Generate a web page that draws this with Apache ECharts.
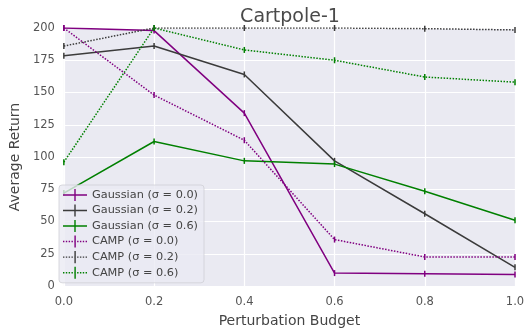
<!DOCTYPE html>
<html>
<head>
<meta charset="utf-8">
<script src="https://cdn.jsdelivr.net/npm/echarts@6/dist/echarts.min.js"></script>
<style>
  html, body { margin: 0; padding: 0; background: #fff; }
  #chart { width: 532px; height: 333px; }
</style>
</head>
<body>
<div id="chart"></div>
<script>
const budgets = [0.0, 0.2, 0.4, 0.6, 0.8, 1.0];
const gauss00 = [200, 198, 134, 10, 9.5, 9];
const gauss02 = [178.5, 186, 164, 97, 56, 14.5];
const gauss06 = [72, 112, 97, 94.5, 73.5, 51];
const camp00 = [200, 148, 113, 36, 22.5, 22.5];
const camp02 = [186, 200, 200, 200, 199.5, 198.5];
const camp06 = [96, 200, 183, 175, 162, 158];
const yTicks = [0, 25, 50, 75, 100, 125, 150, 175, 200];

const PURPLE = '#800080', GREY = '#3b3b3b', GREEN = '#008000';
const font = 'DejaVu Sans';

// legend icons: a line with a small vertical error-bar tick in the middle
const solidIcon = 'path://M0,6.3L24,6.3L24,7.7L0,7.7Z M11.3,1L12.7,1L12.7,13L11.3,13Z';
let dots = '';
for (let x = 0; x < 24; x += 2.8) {
  dots += 'M' + x + ',6.3L' + (x + 1.4) + ',6.3L' + (x + 1.4) + ',7.7L' + x + ',7.7Z ';
}
const dottedIcon = 'path://' + dots + 'M11.3,1L12.7,1L12.7,13L11.3,13Z';

function mk(name, vals, color, dotted) {
  return {
    name: name,
    type: 'line',
    data: budgets.map((b, i) => [b, vals[i]]),
    symbol: 'rect',
    symbolSize: [1.5, 6],
    showSymbol: true,
    color: color,
    lineStyle: { color: color, width: 1.5, type: dotted ? [1.5, 1.5] : 'solid' },
    itemStyle: { color: color },
    emphasis: { disabled: true }
  };
}

const names = ['Gaussian (σ = 0.0)', 'Gaussian (σ = 0.2)', 'Gaussian (σ = 0.6)',
               'CAMP (σ = 0.0)', 'CAMP (σ = 0.2)', 'CAMP (σ = 0.6)'];

const chart = echarts.init(document.getElementById('chart'), null, { renderer: 'canvas' });
chart.setOption({
  animation: false,
  backgroundColor: '#fff',
  title: {
    text: 'Cartpole-1', left: 285, top: 3, textAlign: 'center',
    textStyle: { fontFamily: font, fontSize: 19, fontWeight: 'normal', color: '#4a4a4a' }
  },
  grid: { left: 55, right: 17, top: 28, bottom: 45, show: true, backgroundColor: '#EAEAF2', borderWidth: 0 },
  xAxis: {
    type: 'value', min: 0, max: 1, interval: 0.2,
    name: 'Perturbation Budget', nameLocation: 'middle', nameGap: 28,
    nameTextStyle: { fontFamily: font, fontSize: 14, color: '#444' },
    axisLine: { show: false }, axisTick: { show: false },
    axisLabel: { fontFamily: font, fontSize: 11.5, color: '#555', margin: 10, formatter: v => v.toFixed(1) },
    splitLine: { show: true, lineStyle: { color: '#fff', width: 1.2 } }
  },
  yAxis: {
    type: 'value', min: 0, max: 200, interval: 25,
    name: 'Average Return', nameLocation: 'middle', nameGap: 37,
    nameTextStyle: { fontFamily: font, fontSize: 14, color: '#444' },
    axisLine: { show: false }, axisTick: { show: false },
    axisLabel: { fontFamily: font, fontSize: 11.5, color: '#555', margin: 9,
      formatter: v => yTicks.includes(v) ? String(v) : '' },
    splitLine: { show: true, lineStyle: { color: '#fff', width: 1.2 } }
  },
  legend: {
    orient: 'vertical', left: 59, top: 185,
    backgroundColor: 'rgba(234,234,242,0.8)', borderColor: '#cfcfd6', borderWidth: 0.8, borderRadius: 3,
    padding: [4, 6, 4, 4], itemGap: 3.5, itemWidth: 24, itemHeight: 13,
    textStyle: { fontFamily: font, fontSize: 11.3, color: '#444' },
    data: names.map((n, i) => ({ name: n, icon: i < 3 ? solidIcon : dottedIcon }))
  },
  series: [
    mk(names[0], gauss00, PURPLE, false),
    mk(names[1], gauss02, GREY, false),
    mk(names[2], gauss06, GREEN, false),
    mk(names[3], camp00, PURPLE, true),
    mk(names[4], camp02, GREY, true),
    mk(names[5], camp06, GREEN, true)
  ]
});
</script>
</body>
</html>
